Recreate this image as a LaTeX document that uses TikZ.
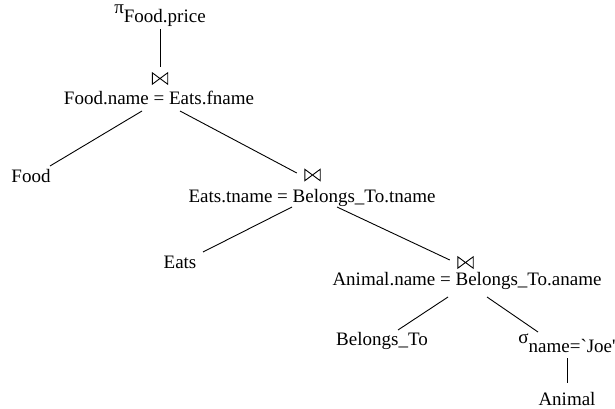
\documentclass[tikz,border=0pt]{standalone}
\usepackage{fontspec}
\newfontfamily\tf{Liberation Serif}
\begin{document}
\begin{tikzpicture}[x=1pt,y=-1pt,
  lbl/.style={inner sep=0pt, anchor=base, font=\tf\fontsize{19}{22}\selectfont},
  btie/.style={inner sep=0pt, minimum width=15pt, minimum height=11pt},
  edge/.style={line width=0.9pt},
  btline/.style={line width=0.9pt, line join=miter}]
\useasboundingbox (0,0) rectangle (615,409);
% nodes
\node[lbl] (proj) at (160,23) {\raisebox{9.5pt}{π}Food.price};
\node[btie] (b1) at (160,78.5) {};
\node[lbl] (j1) at (159,105) {Food.name = Eats.fname};
\node[lbl] (food) at (31,182) {Food};
\node[btie] (b2) at (312.5,175) {};
\node[lbl] (j2) at (312,202) {Eats.tname = Belongs\_To.tname};
\node[lbl] (eats) at (180,268) {Eats};
\node[btie] (b3) at (465.5,262.5) {};
\node[lbl] (j3) at (467,285) {Animal.name = Belongs\_To.aname};
\node[lbl] (bel) at (382,345) {Belongs\_To};
\node[lbl] (sel) at (567,352) {\raisebox{9pt}{σ}name=`Joe'};
\node[lbl] (animal) at (567,405) {Animal};
% bowties
\foreach \b in {b1,b2,b3}
  \draw[btline] (\b.north west) -- (\b.south west) -- (\b.north east) -- (\b.south east) -- cycle;
% connectors
\draw[edge] ([shift={(0,6)}]proj.base) -- ([shift={(0,-6)}]b1.north);
\draw[edge] ([shift={(-17,6)}]j1.base) -- ([shift={(19,-16)}]food.base);
\draw[edge] ([shift={(21,6)}]j1.base) -- ([shift={(-8,-2)}]b2.west);
\draw[edge] ([shift={(-20,5)}]j2.base) -- ([shift={(23,-16)}]eats.base);
\draw[edge] ([shift={(25,5)}]j2.base) -- ([shift={(-8,-2.5)}]b3.west);
\draw[edge] ([shift={(-19,12)}]j3.base) -- ([shift={(16,-15)}]bel.base);
\draw[edge] ([shift={(20,12)}]j3.base) -- ([shift={(-29,-20)}]sel.base);
\draw[edge] ([shift={(0,6)}]sel.base) -- ([shift={(0,-22)}]animal.base);
\end{tikzpicture}
\end{document}
